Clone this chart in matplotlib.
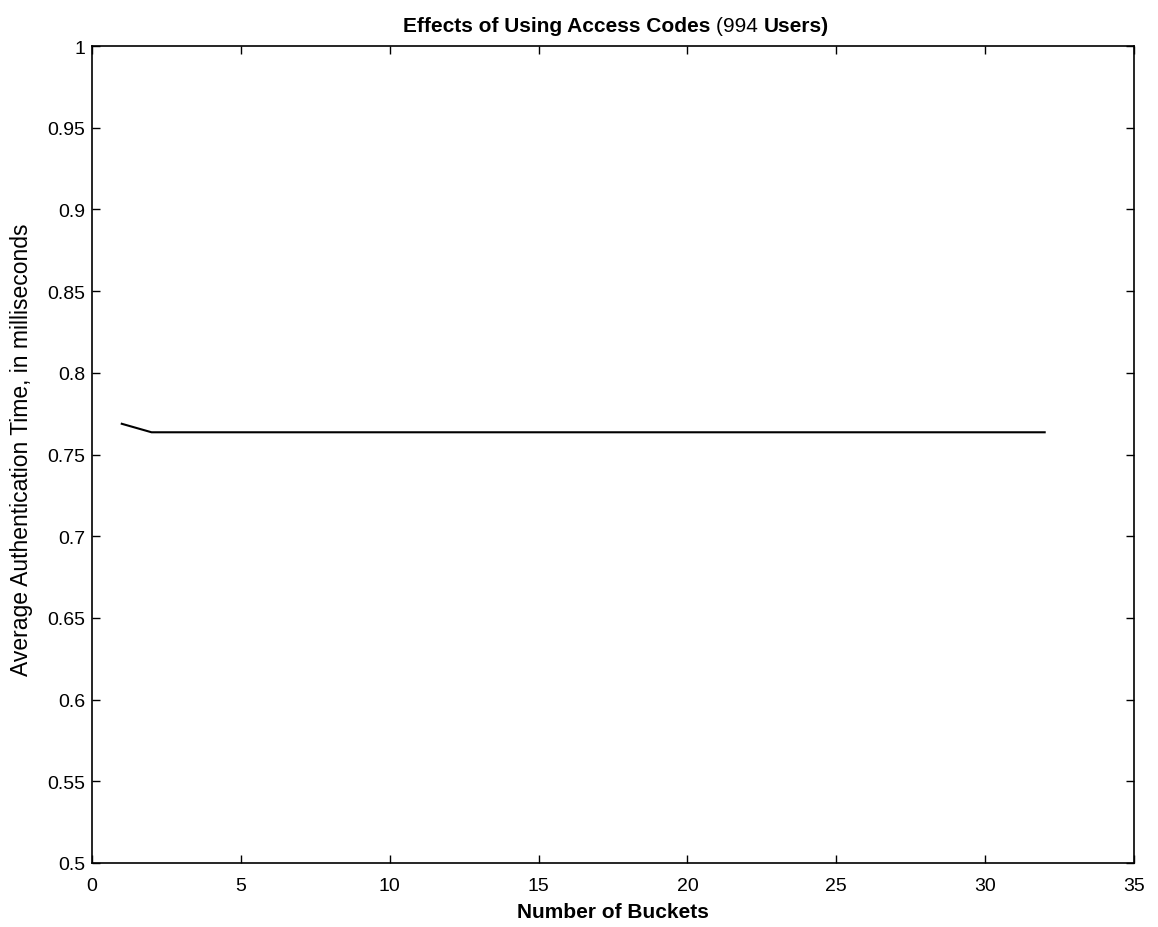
import matplotlib
matplotlib.use("Agg")
import matplotlib.pyplot as plt
import numpy as np

plt.rcParams['font.family'] = ['Liberation Sans', 'DejaVu Sans']

buckets = list(range(1, 33))
avg_time = [0.7688] + [0.7636] * 31

x_ticks = [0, 5, 10, 15, 20, 25, 30, 35]
y_ticks = [0.5, 0.55, 0.6, 0.65, 0.7, 0.75, 0.8, 0.85, 0.9, 0.95, 1.0]
y_tick_labels = ['0.5', '0.55', '0.6', '0.65', '0.7', '0.75', '0.8', '0.85', '0.9', '0.95', '1']

fig = plt.figure(figsize=(11.58, 9.28), dpi=100)
ax = fig.add_axes([92/1158, 1 - 864/928, (1134-92)/1158, (864-47)/928])
ax.plot(buckets, avg_time, color='black', linewidth=1.5)
ax.set_xlim(0, 35)
ax.set_ylim(0.5, 1.0)
ax.set_xticks(x_ticks)
ax.set_xticklabels([str(t) for t in x_ticks])
ax.set_yticks(y_ticks)
ax.set_yticklabels(y_tick_labels)
ax.tick_params(direction='in', top=True, right=True, length=6, width=1, labelsize=14)
ax.tick_params(axis='x', pad=10)
ax.tick_params(axis='y', pad=5)
for s in ax.spines.values():
    s.set_linewidth(1.2)
ax.set_xlabel('Number of Buckets', fontsize=15, fontweight='bold', labelpad=6)
ax.set_ylabel('Average Authentication Time, in milliseconds', fontsize=16.5, labelpad=10)
ax.yaxis.set_label_coords(-0.0566, 0.507)

# Title with mixed weights
fig.canvas.draw()
r = fig.canvas.get_renderer()
parts = [('Effects of Using Access Codes ', 'bold'), ('(994 ', 'normal'), ('Users)', 'bold')]
texts = []
widths = []
for s, w in parts:
    t = fig.text(0, 0, s, fontsize=15, fontweight=w, va='baseline')
    texts.append(t)
    widths.append(t.get_window_extent(r).width)
total = sum(widths)
cx = 616
x0 = cx - total / 2
for t, w in zip(texts, widths):
    t.set_position((x0 / 1158, 1 - 32 / 928))
    x0 += w

fig.savefig('out.png', dpi=100)
